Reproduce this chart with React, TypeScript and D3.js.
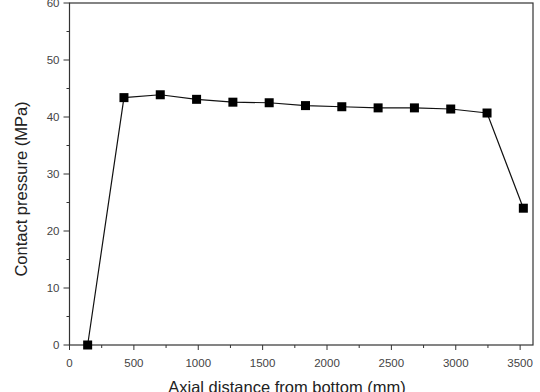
import React from "react";
import * as d3 from "d3";

const distances = [141, 423, 705, 987, 1269, 1551, 1833, 2115, 2397, 2679, 2961, 3243, 3525];
const pressures = [0, 43.4, 43.9, 43.1, 42.6, 42.5, 42.0, 41.8, 41.6, 41.6, 41.4, 40.7, 24.0];
const xTicks = [0, 500, 1000, 1500, 2000, 2500, 3000, 3500];
const yTicks = [0, 10, 20, 30, 40, 50, 60];

export default function App() {
  const W = 540, H = 392;
  const left = 69.5, right = 533, top = 3, bottom = 345;
  const x = d3.scaleLinear().domain([0, 3600]).range([left, right]);
  const y = d3.scaleLinear().domain([0, 60]).range([bottom, top]);
  const line = d3.line<number>().x((_, i) => x(distances[i])).y((d) => y(d));
  const xMinor = d3.range(250, 3600, 500);
  const yMinor = d3.range(5, 60, 10);
  const font = "'Liberation Sans', Arial, sans-serif";
  return (
    <svg width={W} height={H} style={{ position: "absolute", left: 0, top: 0, background: "#fff" }} fontFamily={font}>
      <rect x={left} y={top} width={right - left} height={bottom - top} fill="none" stroke="#333" strokeWidth={1.2} />
      {xTicks.map((t) => (
        <g key={"x" + t}>
          <line x1={x(t)} x2={x(t)} y1={bottom} y2={bottom + 5} stroke="#333" />
          <text x={x(t)} y={bottom + 22} textAnchor="middle" fontSize={11.5} fill="#444">{t}</text>
        </g>
      ))}
      {xMinor.map((t) => (
        <line key={"xm" + t} x1={x(t)} x2={x(t)} y1={bottom} y2={bottom + 3} stroke="#333" />
      ))}
      {yTicks.map((t) => (
        <g key={"y" + t}>
          <line x1={left - 6} x2={left} y1={y(t)} y2={y(t)} stroke="#333" />
          <text x={left - 10} y={y(t) + 4.2} textAnchor="end" fontSize={11.5} fill="#444">{t}</text>
        </g>
      ))}
      {yMinor.map((t) => (
        <line key={"ym" + t} x1={left - 3} x2={left} y1={y(t)} y2={y(t)} stroke="#333" />
      ))}
      <path d={line(pressures) || ""} fill="none" stroke="#111" strokeWidth={1.2} />
      {pressures.map((p, i) => (
        <rect key={i} x={x(distances[i]) - 4.5} y={y(p) - 4.5} width={9} height={9} fill="#000" />
      ))}
      <text transform="translate(27,189) rotate(-90)" textAnchor="middle" fontSize={16.5} fill="#222">Contact pressure (MPa)</text>
      <text x={287} y={393} textAnchor="middle" fontSize={16.5} fill="#222">Axial distance from bottom (mm)</text>
    </svg>
  );
}
